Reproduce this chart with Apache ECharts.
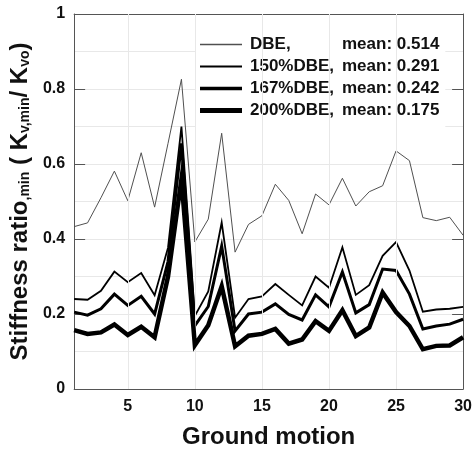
<!DOCTYPE html>
<html>
<head>
<meta charset="utf-8">
<script src="https://cdn.jsdelivr.net/npm/echarts@6/dist/echarts.min.js"></script>
<style>
  html, body { margin: 0; padding: 0; background: #fff; }
  #chart { width: 475px; height: 454px; }
</style>
</head>
<body>
<div id="chart"></div>
<script>
// Ground motion index 1..30
const motions = Array.from({ length: 30 }, (_, i) => i + 1);

// Minimum vertical stiffness ratio per ground motion, for each intensity level
const dbe = [0.433, 0.443, 0.510, 0.581, 0.502, 0.630, 0.485, 0.655, 0.826, 0.392,
             0.453, 0.682, 0.365, 0.439, 0.462, 0.546, 0.503, 0.414, 0.520, 0.491,
             0.562, 0.488, 0.526, 0.542, 0.635, 0.609, 0.457, 0.449, 0.458, 0.410];
const dbe150 = [0.240, 0.238, 0.262, 0.313, 0.285, 0.309, 0.250, 0.377, 0.700, 0.195,
                0.260, 0.444, 0.190, 0.240, 0.247, 0.280, 0.251, 0.223, 0.300, 0.270,
                0.378, 0.251, 0.277, 0.355, 0.392, 0.316, 0.206, 0.212, 0.214, 0.219];
const dbe167 = [0.205, 0.197, 0.214, 0.253, 0.223, 0.247, 0.200, 0.340, 0.655, 0.169,
                0.220, 0.381, 0.155, 0.200, 0.205, 0.227, 0.199, 0.184, 0.251, 0.219,
                0.312, 0.203, 0.225, 0.320, 0.316, 0.253, 0.160, 0.168, 0.173, 0.186];
const dbe200 = [0.157, 0.147, 0.151, 0.172, 0.144, 0.166, 0.138, 0.300, 0.560, 0.117,
                0.170, 0.274, 0.114, 0.142, 0.147, 0.160, 0.121, 0.132, 0.181, 0.155,
                0.210, 0.141, 0.164, 0.257, 0.205, 0.168, 0.106, 0.115, 0.116, 0.138];

const seriesNames = ['DBE,', '150%DBE,', '167%DBE,', '200%DBE,'];
const seriesMeans = ['0.514', '0.291', '0.242', '0.175'];
const xTickValues = [5, 10, 15, 20, 25, 30];
const xGridValues = [5, 10, 15, 20, 25];

const FONT = '"Liberation Sans", Arial, sans-serif';
const AXIS_COLOR = '#555';
const GRID_COLOR = '#e8e8e8';

// line style per intensity level: [colour, width]
const lineLook = [['#505050', 1], ['#000', 1.8], ['#000', 3], ['#000', 4.5]];

const KEY_W = 42;
const KEY_H = 15;

const pair = ys => motions.map((x, i) => [x, ys[i]]);

// horizontal bar legend key of a given thickness, centred in a KEY_W x KEY_H box
const keyIcon = t => {
  const y1 = (KEY_H - t) / 2;
  const y2 = (KEY_H + t) / 2;
  return `path://M0,0 M${KEY_W},${KEY_H} M0,${y1} L${KEY_W},${y1} L${KEY_W},${y2} L0,${y2} Z`;
};

const chart = echarts.init(document.getElementById('chart'), null, { renderer: 'canvas' });

const lineSeries = (idx, ys, z) => ({
  name: seriesNames[idx],
  type: 'line',
  data: pair(ys),
  symbol: 'none',
  z,
  lineStyle: { color: lineLook[idx][0], width: lineLook[idx][1], join: 'miter', cap: 'butt' },
  itemStyle: { color: lineLook[idx][0] },
  emphasis: { disabled: true },
  animation: false
});

const meanOf = {};
seriesNames.forEach((n, i) => { meanOf[n] = seriesMeans[i]; });

chart.setOption({
  backgroundColor: '#fff',
  animation: false,
  grid: { left: 71.5, right: 10.7, top: 14, bottom: 56, containLabel: false },
  legend: {
    data: seriesNames.map((n, i) => ({ name: n, icon: keyIcon(lineLook[i][1] + (i === 0 ? 0.3 : 0.4)) })),
    orient: 'vertical',
    align: 'left',
    left: 196,
    top: 24,
    padding: [12, 6, 14, 4],
    itemWidth: KEY_W,
    itemHeight: KEY_H,
    itemGap: 5,
    symbolKeepAspect: false,
    backgroundColor: '#fff',
    selectedMode: false,
    formatter: name => `{a|${name}}{b|mean: ${meanOf[name]}}`,
    textStyle: {
      fontFamily: FONT,
      fontWeight: 'bold',
      fontSize: 17,
      color: '#111',
      align: 'left',
      rich: {
        a: { fontFamily: FONT, fontWeight: 'bold', fontSize: 17, lineHeight: 18, color: '#111',
             width: 92, align: 'left', padding: [0, 0, 0, 3] },
        b: { fontFamily: FONT, fontWeight: 'bold', fontSize: 17, lineHeight: 18, color: '#111',
             align: 'left' }
      }
    }
  },
  xAxis: [{
    type: 'value',
    min: 1,
    max: 30,
    position: 'bottom',
    name: 'Ground motion',
    nameLocation: 'middle',
    nameGap: 36,
    nameTextStyle: { fontFamily: FONT, fontWeight: 'bold', fontSize: 24, color: '#111' },
    axisLine: { show: true, onZero: false, lineStyle: { color: AXIS_COLOR, width: 1 } },
    axisTick: { show: true, inside: true, length: 11, customValues: xGridValues,
                lineStyle: { color: AXIS_COLOR } },
    axisLabel: { customValues: xTickValues, margin: 10,
                 fontFamily: FONT, fontWeight: 'bold', fontSize: 16, color: '#111' },
    splitLine: { show: false }
  }, {
    type: 'value',
    min: 1,
    max: 30,
    position: 'top',
    axisLine: { show: true, onZero: false, lineStyle: { color: AXIS_COLOR, width: 1 } },
    axisTick: { show: true, inside: true, length: 11, customValues: xGridValues,
                lineStyle: { color: AXIS_COLOR } },
    axisLabel: { show: false },
    splitLine: { show: false }
  }],
  yAxis: [{
    type: 'value',
    min: 0,
    max: 1,
    interval: 0.2,
    position: 'left',
    name: '{t|Stiffness ratio}{s|,min}{t| ( K}{s|v,min}{t|/ K}{s|vo}{t|)}',
    nameLocation: 'middle',
    nameRotate: 90,
    nameGap: 40,
    nameTextStyle: {
      rich: {
        t: { fontFamily: FONT, fontWeight: 'bold', fontSize: 24, color: '#111' },
        s: { fontFamily: FONT, fontWeight: 'bold', fontSize: 14, color: '#111',
             verticalAlign: 'bottom', padding: [7, 0, 0, 0] }
      }
    },
    axisLine: { show: true, onZero: false, lineStyle: { color: AXIS_COLOR, width: 1 } },
    axisTick: { show: true, inside: true, length: 11, lineStyle: { color: AXIS_COLOR } },
    axisLabel: {
      margin: 9,
      fontFamily: FONT, fontWeight: 'bold', fontSize: 16, color: '#111',
      formatter: v => (v === 0 ? '0' : v === 1 ? '1' : v.toFixed(1))
    },
    splitLine: { show: true, lineStyle: { color: GRID_COLOR, width: 1 } },
    minorTick: { show: false, splitNumber: 2 },
    minorSplitLine: { show: true, lineStyle: { color: GRID_COLOR, width: 1 } }
  }, {
    type: 'value',
    min: 0,
    max: 1,
    interval: 0.2,
    position: 'right',
    axisLine: { show: true, onZero: false, lineStyle: { color: AXIS_COLOR, width: 1 } },
    axisTick: { show: true, inside: true, length: 11, lineStyle: { color: AXIS_COLOR } },
    axisLabel: { show: false },
    splitLine: { show: false }
  }],
  series: [
    {
      // vertical grid lines at every fifth ground motion
      name: 'xgrid',
      type: 'line',
      data: [],
      z: 0,
      silent: true,
      markLine: {
        silent: true,
        symbol: 'none',
        label: { show: false },
        lineStyle: { color: GRID_COLOR, width: 1, type: 'solid' },
        emphasis: { disabled: true },
        data: xGridValues.map(v => ({ xAxis: v }))
      }
    },
    lineSeries(0, dbe, 2),
    lineSeries(1, dbe150, 3),
    lineSeries(2, dbe167, 4),
    lineSeries(3, dbe200, 5)
  ]
});
</script>
</body>
</html>
